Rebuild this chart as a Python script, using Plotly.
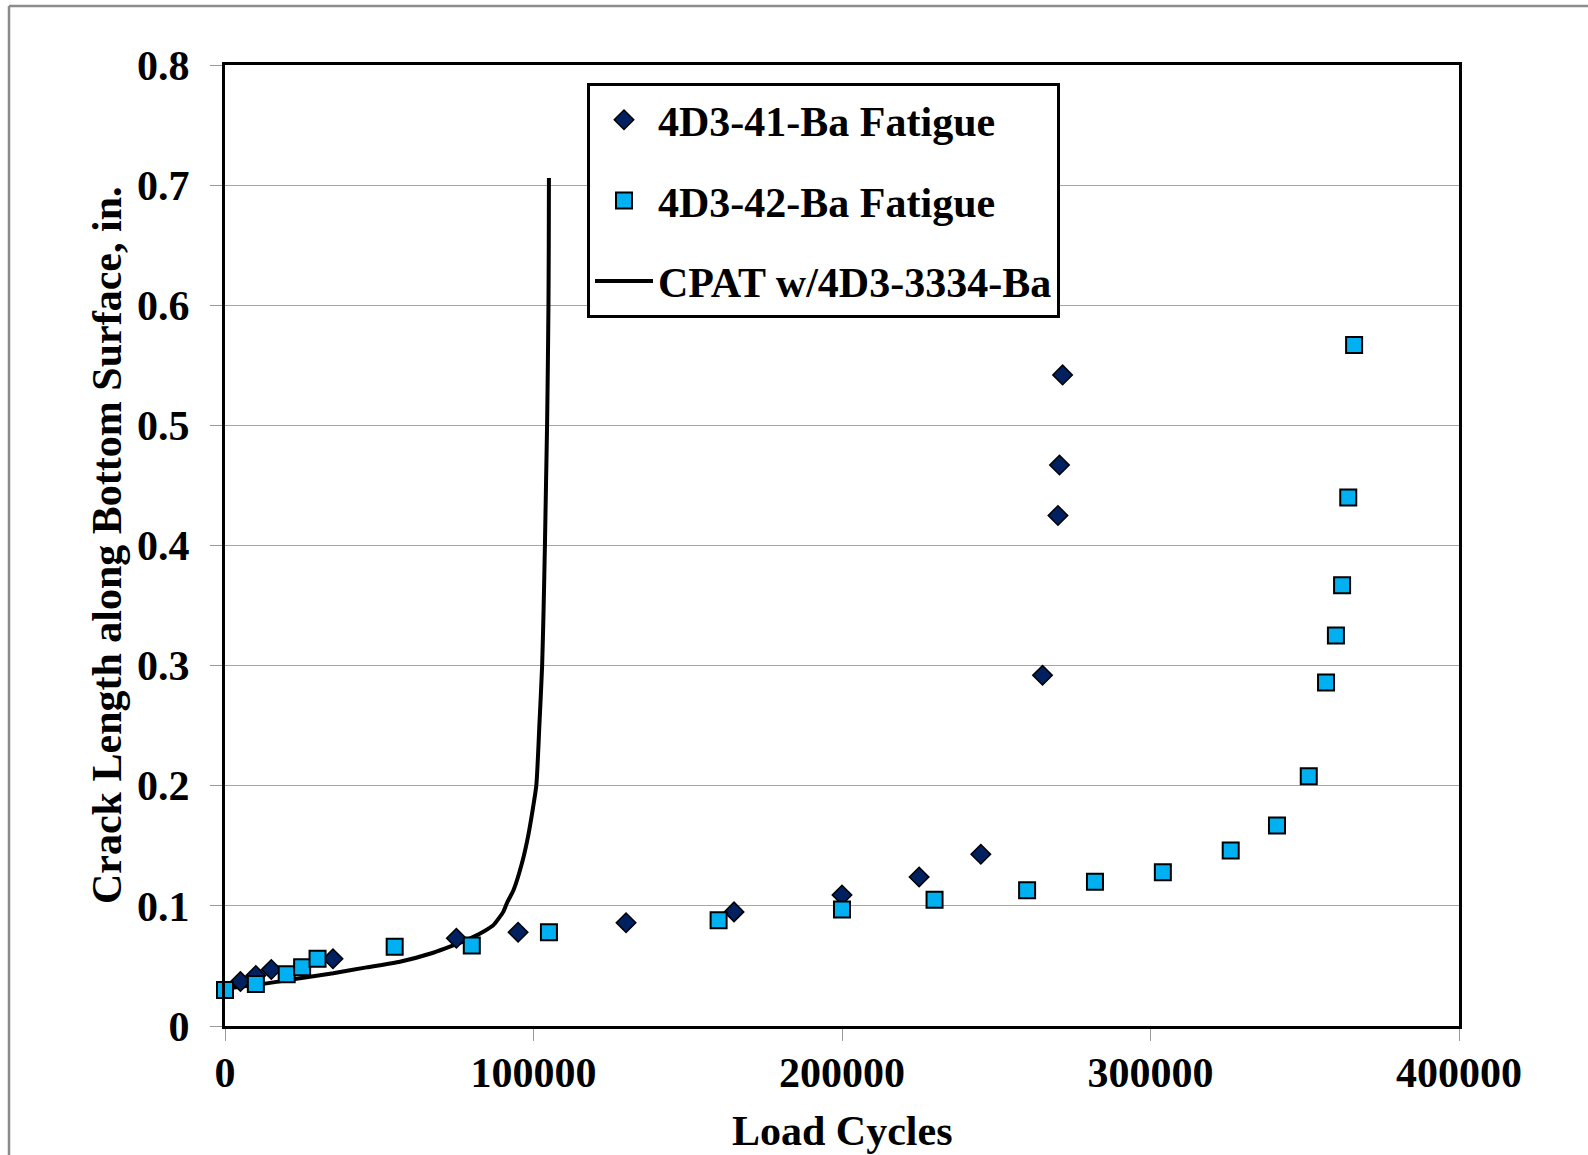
import plotly.graph_objects as go

# ---- data ----
cycles_41 = [5000, 10000, 15000, 35000, 75000, 95000, 130000, 165000, 200000,
             225000, 245000, 265000, 270000, 270500, 271500]
crack_41 = [0.037, 0.042, 0.047, 0.056, 0.073, 0.078, 0.086, 0.095, 0.109,
            0.124, 0.143, 0.292, 0.425, 0.467, 0.542]

cycles_42 = [0, 10000, 20000, 25000, 30000, 55000, 80000, 105000, 160000, 200000,
             230000, 260000, 282000, 304000, 326000, 341000, 351300, 356900,
             360100, 362100, 364100, 366000]
crack_42 = [0.030, 0.035, 0.043, 0.049, 0.056, 0.066, 0.067, 0.078, 0.088, 0.097,
            0.105, 0.113, 0.120, 0.128, 0.146, 0.167, 0.208, 0.286,
            0.325, 0.367, 0.440, 0.567]

cycles_cpat = [0, 13500, 24300, 35100, 45900, 56700, 67500, 72900, 78300, 83700,
               87000, 90200, 91500, 93500, 96200, 98400, 100900, 101900, 102800,
               103300, 103700, 104050, 104400, 104650, 104850, 104950, 105000]
crack_cpat = [0.031, 0.0355, 0.0397, 0.0439, 0.0488, 0.0535, 0.061, 0.066, 0.0716,
              0.0785, 0.084, 0.095, 0.103, 0.113, 0.135, 0.16, 0.2, 0.25, 0.3,
              0.35, 0.4, 0.45, 0.5, 0.55, 0.6, 0.65, 0.706]

x_ticks = [0, 100000, 200000, 300000, 400000]
y_ticks = [0, 0.1, 0.2, 0.3, 0.4, 0.5, 0.6, 0.7, 0.8]
y_ticktext = ["0", "0.1", "0.2", "0.3", "0.4", "0.5", "0.6", "0.7", "0.8"]

FONT = "Liberation Serif, Times New Roman, serif"

fig = go.Figure()
fig.add_trace(go.Scatter(
    x=cycles_cpat, y=crack_cpat, mode="lines", name="CPAT w/4D3-3334-Ba",
    line=dict(color="black", width=4, shape="spline", smoothing=0.5),
    legendgroup="c", legendrank=3,
))
fig.add_trace(go.Scatter(
    x=cycles_41, y=crack_41, mode="markers", name="4D3-41-Ba Fatigue",
    marker=dict(symbol="diamond", size=15, color="#002060",
                line=dict(color="black", width=1.5)),
    legendgroup="a", legendrank=1, cliponaxis=False,
))
fig.add_trace(go.Scatter(
    x=cycles_42, y=crack_42, mode="markers", name="4D3-42-Ba Fatigue",
    marker=dict(symbol="square", size=16, color="#00B0F0",
                line=dict(color="black", width=2)),
    legendgroup="b", legendrank=2, cliponaxis=False,
))

L, R, T, B = 225, 129, 65, 129
W, H = 1588, 1155
pw, ph = W - L - R, H - T - B

fig.update_layout(
    width=W, height=H,
    margin=dict(l=L, r=R, t=T, b=B),
    paper_bgcolor="white", plot_bgcolor="white",
    font=dict(family=FONT, size=42, color="black", weight="bold"),
    showlegend=True,
    legend=dict(
        x=(587 - L) / pw, y=(H - B - 83) / ph, xanchor="left", yanchor="top",
        bgcolor="white", bordercolor="black", borderwidth=3,
        font=dict(family=FONT, size=42, color="black", weight="bold"),
        tracegroupgap=23, itemwidth=58,
        entrywidth=405, entrywidthmode="pixels",
    ),
    xaxis=dict(
        range=[0, 400000], tickvals=x_ticks, tickformat="d",
        showgrid=False, zeroline=False,
        showline=True, linecolor="black", linewidth=3, mirror=True,
        ticks="outside", ticklen=12, tickcolor="#999999", tickwidth=1,
        ticklabelstandoff=-4,
    ),
    yaxis=dict(
        range=[0, 0.8], tickvals=y_ticks, ticktext=y_ticktext,
        showgrid=True, gridcolor="#a6a6a6", gridwidth=1.2, zeroline=False,
        showline=True, linecolor="black", linewidth=3, mirror=True,
        ticks="outside", ticklen=12, tickcolor="#999999", tickwidth=1,
        ticklabelstandoff=12,
    ),
    annotations=[
        dict(text="Load Cycles", xref="paper", yref="paper",
             x=(842 - L) / pw, y=(H - B - 1131) / ph,
             xanchor="center", yanchor="middle", showarrow=False,
             font=dict(family=FONT, size=42, color="black", weight="bold")),
        dict(text="Crack Length along Bottom Surface, in.", xref="paper", yref="paper",
             x=(107 - L) / pw, y=(H - B - 545) / ph, textangle=-90,
             xanchor="center", yanchor="middle", showarrow=False,
             font=dict(family=FONT, size=42, color="black", weight="bold")),
    ],
    shapes=[
        dict(type="line", xref="paper", yref="paper",
             x0=(9 - L) / pw, x1=(9 - L) / pw, y0=(H - B - 6) / ph, y1=(H - B - H - 5) / ph,
             line=dict(color="#8c8c8c", width=2.5)),
        dict(type="line", xref="paper", yref="paper",
             x0=(9 - L) / pw, x1=(W + 5 - L) / pw, y0=(H - B - 6) / ph, y1=(H - B - 6) / ph,
             line=dict(color="#8c8c8c", width=2.5)),
    ],
)

fig.write_html("out.html")
